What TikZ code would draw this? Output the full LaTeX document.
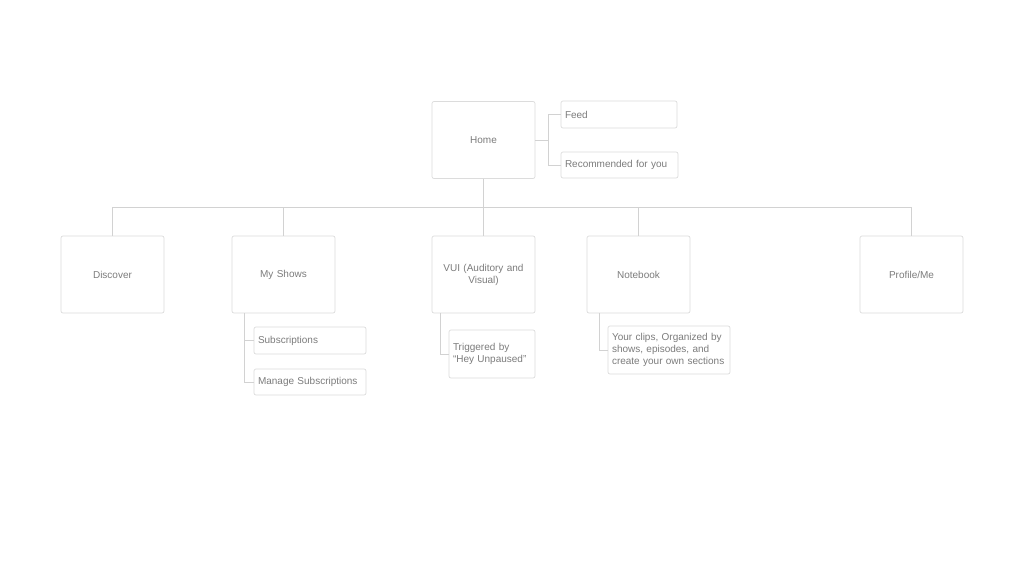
\documentclass[tikz,border=0pt]{standalone}
\usepackage{fontspec}
\setmainfont{Liberation Sans}
\definecolor{boxline}{HTML}{DCDCDC}
\definecolor{wire}{HTML}{D2D2D2}
\definecolor{label}{HTML}{7C7C7C}
\tikzset{
  page/.style={x=1pt, y=-1pt},
  screen/.style={shape=rectangle, draw=boxline, rounded corners=2pt, line width=0.7pt,
    minimum width=103pt, minimum height=77pt, inner sep=2pt, align=center,
    text width=95pt, font=\fontsize{10}{12}\selectfont, text=label},
  item/.style={shape=rectangle, draw=boxline, rounded corners=2pt, line width=0.7pt,
    inner xsep=4pt, inner ysep=0pt, align=left,
    font=\fontsize{10}{12}\selectfont, text=label},
  wire/.style={draw=wire, line width=0.7pt}
}
\begin{document}
\begin{tikzpicture}[page]
	\useasboundingbox[fill=white] (0,0) rectangle (1024,576);

	\node[screen] (home)     at (483.5,140)   {Home};
	\node[item, minimum width=116pt, minimum height=27pt, text width=108pt] (feed) at (619,114.5) {Feed};
	\node[item, minimum width=117pt, minimum height=26pt, text width=109pt] (rec)  at (619.5,165) {Recommended for you};

	\node[screen] (discover) at (112.5,274.5) {Discover};
	\node[screen] (myshows)  at (283.5,274.5) {My Shows};
	\node[screen] (vui)      at (483.5,274.5) {VUI (Auditory and\\Visual)};
	\node[screen] (notebook) at (638.5,274.5) {Notebook};
	\node[screen] (profile)  at (911.5,274.5) {Profile/Me};

	\node[item, minimum width=112pt, minimum height=27pt, text width=104pt] (subs)   at (310,340.5) {Subscriptions};
	\node[item, minimum width=112pt, minimum height=26pt, text width=104pt] (manage) at (310,382)   {Manage Subscriptions};
	\node[item, minimum width=86pt,  minimum height=48pt, text width=78pt]  (trig)   at (492,354)   {Triggered by\\``Hey Unpaused''};
	\node[item, minimum width=122pt, minimum height=48pt, text width=114pt] (clips)  at (669,350)   {Your clips, Organized by\\shows, episodes, and\\create your own sections};

	\coordinate (hj)  at (548,140);
	\coordinate (bus) at (483.5,207);
	\coordinate (msj) at (244,313);
	\coordinate (vj)  at (440,313);
	\coordinate (nj)  at (599,313);

	\path [wire] (home.east) -- (hj);
	\path [wire] (feed.west) -| (hj);
	\path [wire] (rec.west) -| (hj);

	\path [wire] (home.south) -- (bus);
	\path [wire] (bus) -| (discover.north);
	\path [wire] (bus) -| (myshows.north);
	\path [wire] (bus) -- (vui.north);
	\path [wire] (bus) -| (notebook.north);
	\path [wire] (bus) -| (profile.north);

	\path [wire] (msj) |- (subs.west);
	\path [wire] (msj) |- (manage.west);
	\path [wire] (vj) |- (trig.west);
	\path [wire] (nj) |- (clips.west);
\end{tikzpicture}
\end{document}
